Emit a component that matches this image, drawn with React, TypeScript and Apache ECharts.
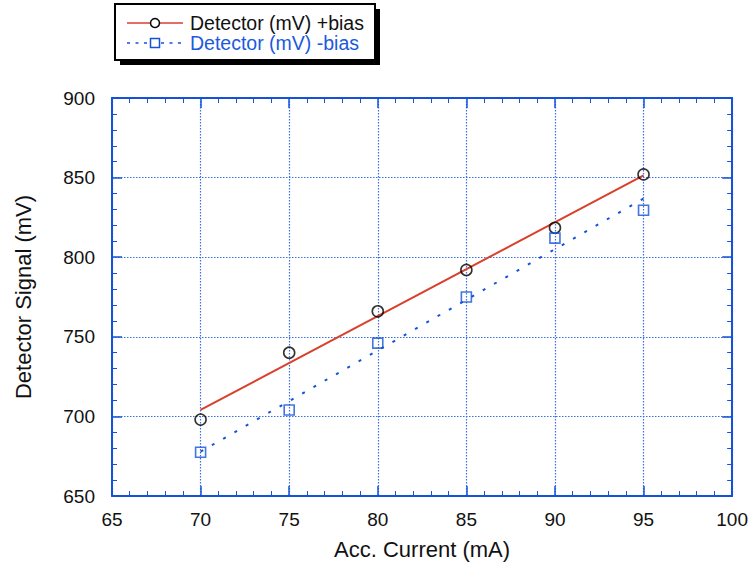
import React, { useEffect, useRef } from "react";
import * as echarts from "echarts";

const currents = [70, 75, 80, 85, 90, 95];
const plusBias = [698, 740, 766, 792, 818.5, 852];
const minusBias = [677.5, 704, 746, 775, 812, 829.5];
const xTicks = [65, 70, 75, 80, 85, 90, 95, 100];
const yTicks = [650, 700, 750, 800, 850, 900];

const legendNames = ["Detector (mV) +bias", "Detector (mV) -bias"];

const AXIS_BLUE = "#1552d9";
const GRID_BLUE = "#3a6ee2";
const RED = "#d9402c";
const FONT = "'Liberation Sans', Arial, Helvetica, sans-serif";

function fit(xs: number[], ys: number[]) {
  const n = xs.length;
  const mx = xs.reduce((a, b) => a + b, 0) / n;
  const my = ys.reduce((a, b) => a + b, 0) / n;
  let sxy = 0;
  let sxx = 0;
  for (let i = 0; i < n; i++) {
    sxy += (xs[i] - mx) * (ys[i] - my);
    sxx += (xs[i] - mx) * (xs[i] - mx);
  }
  const slope = sxy / sxx;
  const icpt = my - slope * mx;
  const x0 = xs[0];
  const x1 = xs[n - 1];
  return [
    [x0, icpt + slope * x0],
    [x1, icpt + slope * x1],
  ];
}

export default function App() {
  const ref = useRef<HTMLDivElement>(null);
  useEffect(() => {
    document.body.style.margin = "0";
    if (!ref.current) return;
    const chart = echarts.init(ref.current, null, { renderer: "svg" });
    const xMin = xTicks[0];
    const xMax = xTicks[xTicks.length - 1];
    const yMin = yTicks[0];
    const yMax = yTicks[yTicks.length - 1];

    const baseAxis = {
      axisLine: { show: true, onZero: false, lineStyle: { color: AXIS_BLUE, width: 2 } },
      axisTick: { show: true, inside: true, length: 10, lineStyle: { color: AXIS_BLUE, width: 1.5 } },
      minorTick: { show: true, splitNumber: 5, length: 5, lineStyle: { color: AXIS_BLUE, width: 1 } },
    };
    const gridLine = { show: true, lineStyle: { color: GRID_BLUE, width: 1.2, type: [1.5, 1.5] } };

    const option: any = {
      animation: false,
      backgroundColor: "#ffffff",
      textStyle: { fontFamily: FONT },
      grid: { left: 112, right: 14, top: 98, bottom: 71 },
      xAxis: [
        {
          ...baseAxis,
          type: "value",
          position: "bottom",
          min: xMin,
          max: xMax,
          interval: 5,
          name: "Acc. Current (mA)",
          nameLocation: "middle",
          nameGap: 42,
          nameTextStyle: { fontSize: 22, color: "#111", fontFamily: FONT },
          axisLabel: { fontSize: 19, color: "#111", margin: 14, fontFamily: FONT },
          splitLine: gridLine,
        },
        {
          ...baseAxis,
          type: "value",
          position: "top",
          min: xMin,
          max: xMax,
          interval: 5,
          axisLabel: { show: false },
          splitLine: { show: false },
        },
      ],
      yAxis: [
        {
          ...baseAxis,
          type: "value",
          position: "left",
          min: yMin,
          max: yMax,
          interval: 50,
          name: "Detector Signal (mV)",
          nameLocation: "middle",
          nameGap: 78,
          nameTextStyle: { fontSize: 22, color: "#111", fontFamily: FONT },
          axisLabel: { fontSize: 19, color: "#111", margin: 17, fontFamily: FONT },
          splitLine: gridLine,
        },
        {
          ...baseAxis,
          type: "value",
          position: "right",
          min: yMin,
          max: yMax,
          interval: 50,
          axisLabel: { show: false },
          splitLine: { show: false },
        },
      ],
      series: [
        {
          name: legendNames[0] + " fit",
          type: "line",
          data: fit(currents, plusBias),
          showSymbol: false,
          lineStyle: { color: RED, width: 2 },
          z: 2,
        },
        {
          name: legendNames[1] + " fit",
          type: "line",
          data: fit(currents, minusBias),
          showSymbol: false,
          lineStyle: { color: AXIS_BLUE, width: 2, type: [3, 10] },
          z: 2,
        },
        {
          name: legendNames[0],
          type: "scatter",
          data: currents.map((x, i) => [x, plusBias[i]]),
          symbol: "circle",
          symbolSize: 11,
          itemStyle: { color: "rgba(0,0,0,0)", borderColor: "#000", borderWidth: 1.6 },
          z: 3,
        },
        {
          name: legendNames[1],
          type: "scatter",
          data: currents.map((x, i) => [x, minusBias[i]]),
          symbol: "rect",
          symbolSize: 10,
          itemStyle: { color: "rgba(0,0,0,0)", borderColor: AXIS_BLUE, borderWidth: 1.6 },
          z: 3,
        },
      ],
      graphic: [
        { type: "rect", shape: { x: 120, y: 9, width: 260, height: 56 }, style: { fill: "#000" }, z: 10 },
        { type: "rect", shape: { x: 115, y: 4, width: 260, height: 56 }, style: { fill: "#fff", stroke: "#000", lineWidth: 2 }, z: 11 },
        { type: "line", shape: { x1: 127, y1: 23, x2: 183, y2: 23 }, style: { stroke: RED, lineWidth: 1.5 }, z: 12 },
        { type: "circle", shape: { cx: 155, cy: 23, r: 4.5 }, style: { fill: "#fff", stroke: "#000", lineWidth: 1.5 }, z: 13 },
        {
          type: "text",
          x: 190,
          y: 23,
          style: { text: legendNames[0], fontSize: 19.5, fontFamily: FONT, fill: "#111", textVerticalAlign: "middle" },
          z: 12,
        },
        { type: "line", shape: { x1: 127, y1: 43, x2: 183, y2: 43 }, style: { stroke: AXIS_BLUE, lineWidth: 1.5, lineDash: [3, 5.5] }, z: 12 },
        { type: "rect", shape: { x: 150.5, y: 38.5, width: 9, height: 9 }, style: { fill: "#fff", stroke: AXIS_BLUE, lineWidth: 1.5 }, z: 13 },
        {
          type: "text",
          x: 190,
          y: 43,
          style: { text: legendNames[1], fontSize: 19.5, fontFamily: FONT, fill: "#1a5ae0", textVerticalAlign: "middle" },
          z: 12,
        },
      ],
    };
    chart.setOption(option);
    return () => chart.dispose();
  }, []);
  return <div ref={ref} style={{ width: 751, height: 567, position: "fixed", left: 0, top: 0 }} />;
}
